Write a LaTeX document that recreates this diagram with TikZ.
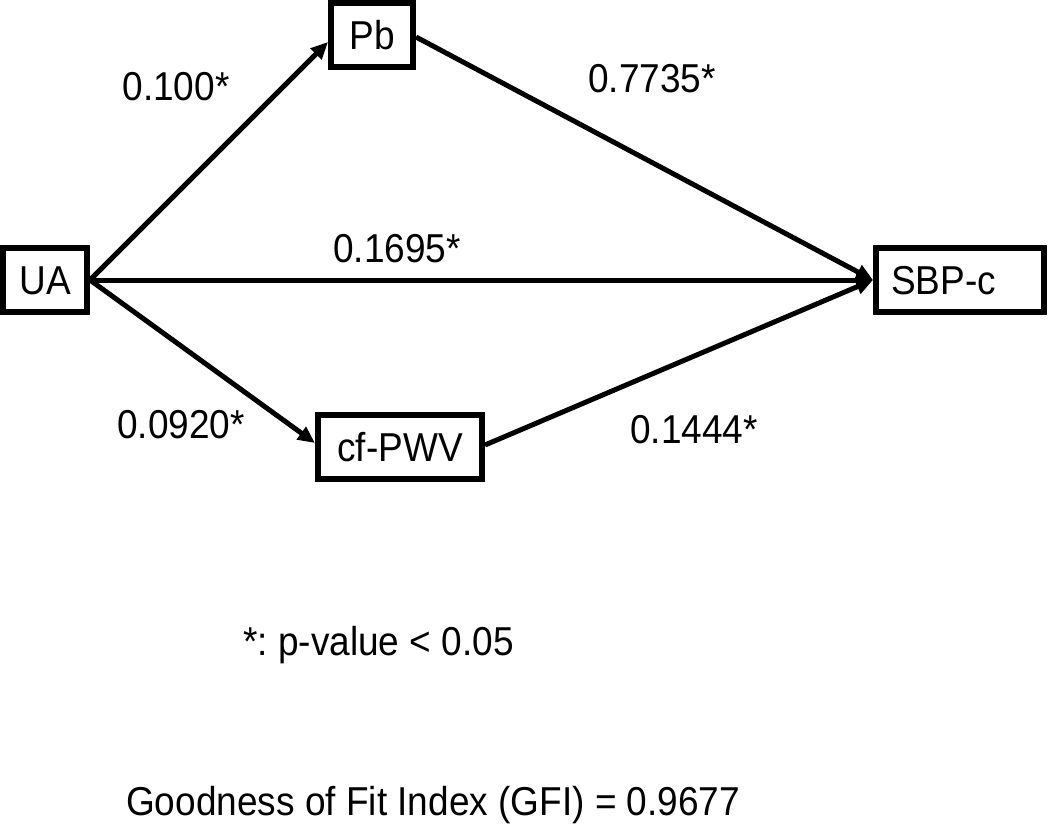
\documentclass[tikz,border=0pt]{standalone}
\usepackage{graphicx}
\usepackage{fontspec}
\setmainfont{Liberation Sans}
\usetikzlibrary{arrows.meta}
\frenchspacing
\newcommand{\tallt}[1]{\scalebox{1}[1.09]{#1}}
\begin{document}
\begin{tikzpicture}[x=1pt,y=-1pt,
  box/.style={draw, line width=6pt, minimum height=64pt, inner sep=0pt,
    text height=29pt, text depth=0pt, font=\fontsize{37}{44}\selectfont},
  conn/.style={line width=5pt, -{Triangle[length=17pt,width=15pt]}},
  lbl/.style={anchor=base, inner sep=0pt, font=\fontsize{37}{44}\selectfont}]
\useasboundingbox (0,0) rectangle (1050,828);
\node[box, minimum width=84pt] (UA) at (45,280) {\tallt{UA}};
\node[box, minimum width=82pt] (Pb) at (372,35) {\tallt{Pb}};
\node[box, minimum width=164pt] (CF) at (400,447) {\tallt{cf-PWV}};
\node[box, text width=138pt, inner xsep=15pt, align=left] (SBP) at (960,280) {\tallt{SBP-c}};
\draw[conn] (UA.east) -- ([yshift=-7pt]Pb.west);
\draw[conn] (UA.east) -- (SBP.west);
\draw[conn] (UA.east) -- ([yshift=4pt]CF.west);
\draw[conn] ([yshift=-2pt]Pb.east) -- (SBP.west);
\draw[conn] ([yshift=2pt]CF.east) -- (SBP.west);
\node[lbl] (l1) at (176,100) {\tallt{0.100*}};
\node[lbl] (l2) at (652,92) {\tallt{0.7735*}};
\node[lbl] (l3) at (397,262) {\tallt{0.1695*}};
\node[lbl] (l4) at (181,438) {\tallt{0.0920*}};
\node[lbl] (l5) at (694,443) {\tallt{0.1444*}};
\node[lbl, anchor=base west] (note) at (243,655) {\tallt{*: p-value < 0.05}};
\node[lbl, anchor=base west] (gfi) at (126,815) {\tallt{Goodness of Fit Index (GFI) = 0.9677}};
\end{tikzpicture}
\end{document}
